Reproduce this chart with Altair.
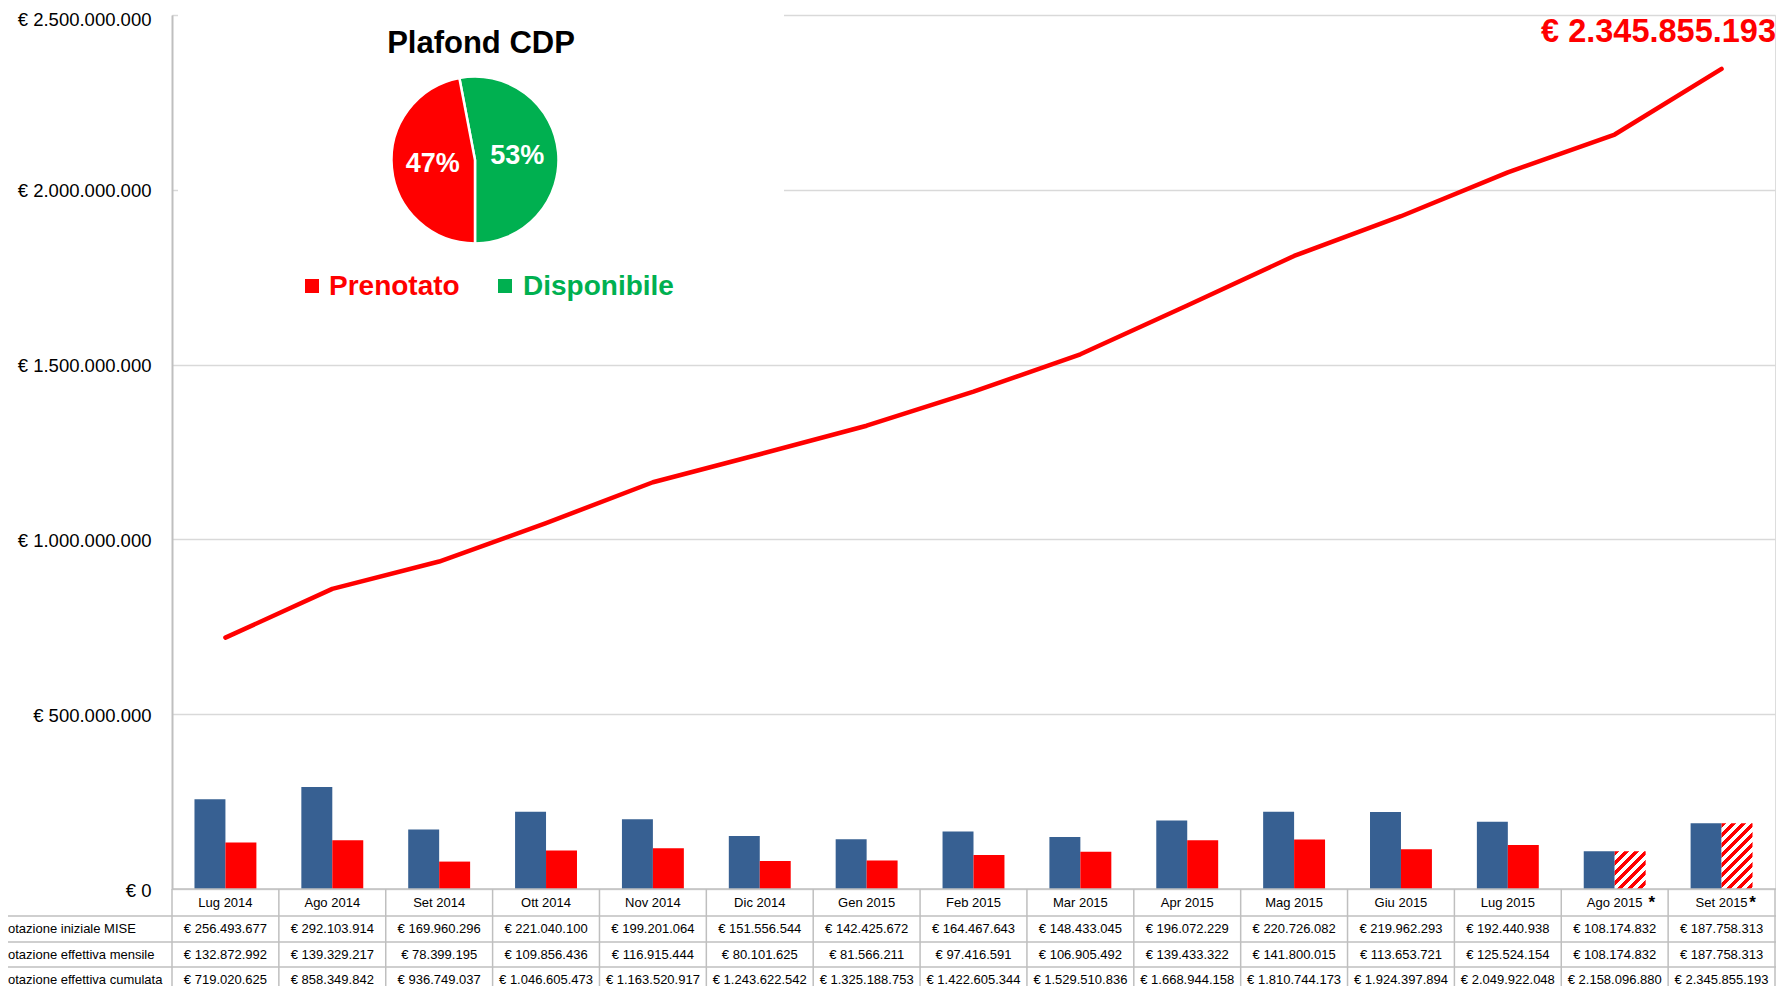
import math
import altair as alt
import pandas as pd

# ---------------- data ----------------
months = ["Lug 2014", "Ago 2014", "Set 2014", "Ott 2014", "Nov 2014", "Dic 2014",
          "Gen 2015", "Feb 2015", "Mar 2015", "Apr 2015", "Mag 2015", "Giu 2015",
          "Lug 2015", "Ago 2015", "Set 2015"]
mise = [256493677, 292103914, 169960296, 221040100, 199201064, 151556544,
        142425672, 164467643, 148433045, 196072229, 220726082, 219962293,
        192440938, 108174832, 187758313]
mensile = [132872992, 139329217, 78399195, 109856436, 116915444, 80101625,
           81566211, 97416591, 106905492, 139433322, 141800015, 113653721,
           125524154, 108174832, 187758313]
cumulata = [719020625, 858349842, 936749037, 1046605473, 1163520917, 1243622542,
            1325188753, 1422605344, 1529510836, 1668944158, 1810744173, 1924397894,
            2049922048, 2158096880, 2345855193]
hatched_months = ["Ago 2015", "Set 2015"]
row_labels = ["Dotazione iniziale MISE", "Dotazione effettiva mensile",
              "Dotazione effettiva cumulata"]
series_names = ["MISE", "Effettiva"]
y_ticks = [0, 500000000, 1000000000, 1500000000, 2000000000, 2500000000]
pie_cats = ["Disponibile", "Prenotato"]
pie_pct = [53, 47]
pie_labels = ["53%", "47%"]
pie_title = "Plafond CDP"
total_label = "€ 2.345.855.193"


def eur(v):
    return "€ " + f"{v:,}".replace(",", ".")


# ---------------- layout (reference pixels) ----------------
W, H = 1603, 874          # plot area
PX0, PY0 = 172, 15        # plot origin in reference coords
SVG_W, SVG_H = 1769, 978
PAD = {"left": PX0 - 8, "top": PY0 - 8, "right": SVG_W - (PX0 - 8) - W,
       "bottom": SVG_H - (PY0 - 8) - H}
Y_MAX = 2500000000
BAND = W / len(months)
PO = 0.726
FONT = "Liberation Sans"
BLUE, RED, GREEN = "#376092", "#FF0000", "#00B050"
GRID, BORDER = "#D9D9D9", "#BFBFBF"


def X(xr):
    return xr - PX0


def Y(yr):
    return yr - PY0


# ---------------- tables ----------------
bars_df = pd.DataFrame({
    "month": months * 2,
    "series": ["MISE"] * len(months) + ["Effettiva"] * len(months),
    "value": mise + mensile,
    "hatch": [False] * len(months) + [m in hatched_months for m in months],
})
line_df = pd.DataFrame({"month": months, "cum": cumulata})
months_df = pd.DataFrame({"month": months})
one = pd.DataFrame({"k": [0]})

x_scale = alt.Scale(domain=months, paddingInner=0, paddingOuter=0)
y_scale = alt.Scale(domain=[0, Y_MAX], nice=False, zero=True)
y_axis = alt.Axis(values=y_ticks,
                  labelExpr="'€ ' + replace(format(datum.value, ','), regexp(',', 'g'), '.')",
                  grid=True, gridColor=GRID, gridWidth=1.5,
                  domainColor=BORDER, domainWidth=2, ticks=False, tickSize=0,
                  labelFontSize=18.5, labelColor="#000000", labelPadding=21,
                  labelOffset={"condition": {"test": f"datum.value >= {Y_MAX}", "value": 4.5},
                               "value": 1},
                  labelFont=FONT, title=None)
XE = alt.X("month:N", scale=x_scale, axis=None)
XO = alt.XOffset("series:N", scale=alt.Scale(domain=series_names, paddingInner=0,
                                              paddingOuter=PO))

layers = []

# white panel behind the pie (hides the gridlines there)
layers.append(alt.Chart(one).mark_rect(color="white").encode(
    x=alt.value(X(178)), x2=alt.value(X(784)), y=alt.value(Y(-20)), y2=alt.value(Y(310))))

# bars
layers.append(alt.Chart(bars_df).transform_filter("!datum.hatch").mark_bar().encode(
    x=XE, xOffset=XO,
    y=alt.Y("value:Q", scale=y_scale, axis=y_axis),
    color=alt.Color("series:N", scale=alt.Scale(domain=series_names, range=[BLUE, RED]),
                    legend=None)))


def hatch(v, period=10.0):
    w = BAND / (2 + 2 * PO)
    h = v / Y_MAX * H
    k = (w + h) / (w * w + h * h)
    L = w + h
    stops = []
    s = 0.0
    while s < L:
        a = s / L
        b = min((s + period / 2) / L, 1)
        c = min((s + period) / L, 1)
        stops += [alt.GradientStop(color=RED, offset=a), alt.GradientStop(color=RED, offset=b),
                  alt.GradientStop(color="#FFFFFF", offset=b), alt.GradientStop(color="#FFFFFF", offset=c)]
        s += period
    return alt.LinearGradient(gradient="linear", stops=stops, x1=0, y1=0, x2=k * w, y2=k * h)


for m in hatched_months:
    v = mensile[months.index(m)]
    layers.append(alt.Chart(bars_df).transform_filter(
        f"datum.month == '{m}' && datum.series == 'Effettiva'").mark_bar(fill=hatch(v), strokeWidth=0).encode(
        x=XE, xOffset=XO, y=alt.Y("value:Q", scale=y_scale, axis=y_axis)))

# cumulative line
layers.append(alt.Chart(line_df).mark_line(color=RED, strokeWidth=4.5, strokeCap="round",
                                           strokeJoin="round").encode(
    x=XE, y=alt.Y("cum:Q", scale=y_scale, axis=y_axis)))

# table borders
ROW_BORDERS = [916, 942, 967]
layers.append(alt.Chart(one).mark_rule(color=BORDER, strokeWidth=1.5).encode(
    x=alt.value(0), x2=alt.value(W + 1), y=alt.value(H)))
for yb in ROW_BORDERS:
    layers.append(alt.Chart(one).mark_rule(color=BORDER, strokeWidth=1.5).encode(
        x=alt.value(-PX0 - 10), x2=alt.value(W + 1), y=alt.value(Y(yb))))
layers.append(alt.Chart(months_df).mark_rule(color=BORDER, strokeWidth=1.5).encode(
    x=alt.X("month:N", scale=x_scale, axis=None, bandPosition=0),
    y=alt.value(H), y2=alt.value(H + 140)))
layers.append(alt.Chart(months_df).transform_filter(f"datum.month == '{months[-1]}'").mark_rule(
    color=BORDER, strokeWidth=1.5).encode(
    x=alt.X("month:N", scale=x_scale, axis=None, bandPosition=1),
    y=alt.value(H), y2=alt.value(H + 140)))

# table texts
ROW_Y = [903, 929, 954.5, 979.5]
layers.append(alt.Chart(months_df).mark_text(fontSize=13, font=FONT, color="#000000",
                                             baseline="middle").encode(
    x=XE, y=alt.value(Y(ROW_Y[0])), text="month:N"))
star_dx = {"Ago 2015": 37, "Set 2015": 31}
for m in hatched_months:
    layers.append(alt.Chart(months_df).transform_filter(f"datum.month == '{m}'").mark_text(
        text="*", fontSize=17, fontWeight="bold", font=FONT, color="#000000",
        baseline="middle", dx=star_dx[m]).encode(x=XE, y=alt.value(Y(ROW_Y[0]))))
for i, vals in enumerate([mise, mensile, cumulata]):
    df = pd.DataFrame({"month": months, "txt": [eur(v) for v in vals]})
    layers.append(alt.Chart(df).mark_text(fontSize=13, font=FONT, color="#000000",
                                          baseline="middle").encode(
        x=XE, y=alt.value(Y(ROW_Y[i + 1])), text="txt:N"))
    layers.append(alt.Chart(pd.DataFrame({"lab": [row_labels[i]]})).mark_text(
        fontSize=13, font=FONT, color="#000000", baseline="middle", align="left").encode(
        x=alt.value(X(-1.4)), y=alt.value(Y(ROW_Y[i + 1])), text="lab:N"))

# pie
pie_df = pd.DataFrame({"cat": pie_cats, "val": pie_pct, "lab": pie_labels, "ord": [0, 1]})
gf = pie_pct[0] / sum(pie_pct)
start = math.pi - 2 * math.pi * gf
theta = alt.Theta("val:Q", stack=True, scale=alt.Scale(range=[start, start + 2 * math.pi]))
PCX, PCY = X(475), Y(160)
layers.append(alt.Chart(pie_df).mark_arc(outerRadius=83.5, stroke="white", strokeWidth=2.5).encode(
    theta=theta, order=alt.Order("ord:Q"),
    fill=alt.Fill("cat:N", scale=alt.Scale(domain=pie_cats, range=[GREEN, RED]), legend=None),
    x=alt.value(PCX), y=alt.value(PCY)))
layers.append(alt.Chart(pie_df).mark_text(radius=42.5, fontSize=27, fontWeight="bold", font=FONT,
                                          color="white", baseline="middle").encode(
    theta=theta, order=alt.Order("ord:Q"), text="lab:N", x=alt.value(PCX), y=alt.value(PCY)))

# pie title
layers.append(alt.Chart(pd.DataFrame({"t": [pie_title]})).mark_text(
    fontSize=31, fontWeight="bold", font=FONT, color="#000000", baseline="alphabetic").encode(
    x=alt.value(X(481)), y=alt.value(Y(53)), text="t:N"))

# pie legend
leg = [(pie_cats[1], RED, 312, 329), (pie_cats[0], GREEN, 505, 523)]
for name, col, sx, tx in leg:
    layers.append(alt.Chart(one).mark_square(size=196, color=col, opacity=1).encode(
        x=alt.value(X(sx)), y=alt.value(Y(286))))
    layers.append(alt.Chart(pd.DataFrame({"t": [name]})).mark_text(
        fontSize=28, fontWeight="bold", font=FONT, color=col, align="left",
        baseline="alphabetic").encode(x=alt.value(X(tx)), y=alt.value(Y(295)), text="t:N"))

# total label
layers.append(alt.Chart(pd.DataFrame({"t": [total_label]})).mark_text(
    fontSize=32.5, fontWeight="bold", font=FONT, color=RED, align="right",
    baseline="alphabetic").encode(x=alt.value(X(1776)), y=alt.value(Y(41.7)), text="t:N"))

chart = alt.layer(*layers).properties(
    width=W, height=H,
    autosize=alt.AutoSizeParams(type="none"),
    padding=PAD,
    background="white",
).configure_view(stroke=None).configure(font=FONT)

chart.save("out.html", embed_options={"renderer": "svg", "actions": False})
